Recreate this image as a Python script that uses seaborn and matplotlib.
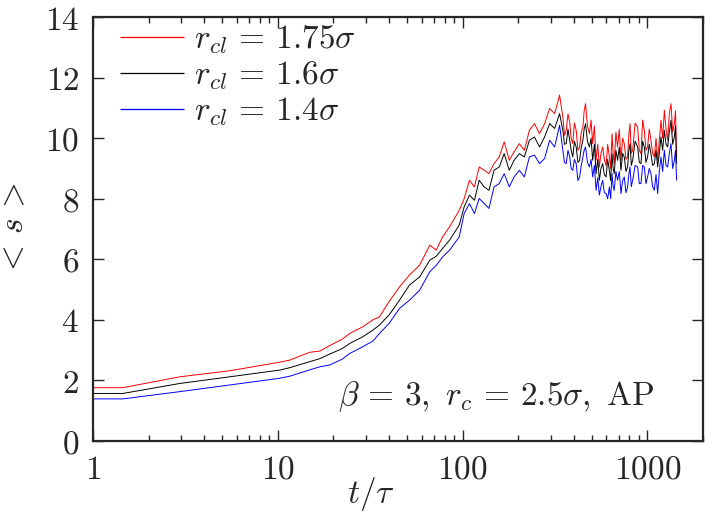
import matplotlib
matplotlib.use("Agg")
import matplotlib.pyplot as plt
import matplotlib.ticker as mticker
from matplotlib.lines import Line2D
import seaborn as sns
import pandas as pd

# time points (t / tau)
t_vals = [1, 1.45, 2.95, 5.5, 10.2, 11.6, 14.9, 16.9,
          19.1, 22.3, 24.5, 28.8, 32.7, 35.5, 40, 45.6, 51.6, 58.6, 66.5, 72, 78, 85, 96,
          102, 109, 116, 123, 131, 139, 148, 158, 168, 179, 190, 203, 216, 230, 245, 261, 278, 296, 315, 335,
          349, 356, 364, 372, 380, 387, 395, 403, 412, 421,
          430, 439, 448, 455, 463, 474, 486, 496, 506, 517,
          528, 539, 550, 561, 573, 585, 598, 610, 623, 633,
          644, 653, 662, 676, 690, 705, 720, 735, 750, 766,
          782, 794, 806, 819, 833, 859, 886, 905, 924, 943,
          963, 983, 1003, 1024, 1046, 1068, 1091, 1114, 1137, 1161,
          1185, 1210, 1236, 1262, 1288, 1315, 1343, 1371, 1400, 1420, 1440]

s_red = [1.76, 1.76, 2.12, 2.32, 2.6, 2.67, 2.93, 2.97,
         3.15, 3.36, 3.55, 3.77, 4.0, 4.1, 4.6, 5.09, 5.48, 5.81, 6.47, 6.3, 6.74, 7.07, 7.62,
         8.0, 8.61, 8.39, 9.05, 8.94, 8.83, 9.16, 9.38, 9.88, 9.27, 9.55, 9.82, 9.6, 10.26, 10.48, 10.15, 10.48, 10.98, 10.81, 11.42,
         10.7, 10.1, 10.26, 10.8, 10.54, 10.0, 9.82, 10.5, 10.26, 9.6,
         9.71, 10.2, 10.37, 10.9, 11.14, 10.4, 10.15, 10.6, 9.82, 10.4,
         9.27, 9.8, 9.05, 9.5, 9.71, 9.3, 9.1, 9.8, 9.38, 9.0,
         10.15, 9.5, 9.16, 10.2, 9.71, 10.3, 9.27, 10.0, 9.82, 9.3,
         9.38, 10.1, 10.48, 9.5, 9.6, 10.5, 10.37, 9.6, 9.49, 10.6,
         10.26, 9.6, 9.71, 10.3, 9.93, 9.5, 9.38, 10.0, 9.27, 9.9,
         10.59, 10.0, 10.92, 10.3, 9.93, 10.8, 11.14, 10.2, 10.48, 10.9, 9.38]

s_black = [1.57, 1.57, 1.9, 2.12, 2.34, 2.42, 2.62, 2.72,
           2.87, 3.05, 3.22, 3.44, 3.66, 3.83, 4.16, 4.65, 5.15, 5.42, 5.97, 6.1, 6.36, 6.63, 7.13,
           7.73, 8.12, 7.95, 8.61, 8.39, 8.28, 8.94, 9.05, 9.49, 8.94, 9.27, 9.49, 9.38, 9.93, 10.04, 9.71, 10.04, 10.48, 10.32, 10.81,
           10.26, 9.8, 9.82, 10.3, 9.93, 9.6, 9.38, 9.9, 9.71, 9.2,
           9.27, 9.7, 9.93, 10.3, 10.48, 9.9, 9.71, 10.0, 9.27, 9.8,
           8.83, 9.3, 8.61, 9.0, 9.16, 8.8, 8.72, 9.3, 8.94, 8.6,
           9.49, 9.0, 8.83, 9.6, 9.27, 9.7, 8.94, 9.5, 9.38, 8.9,
           9.05, 9.6, 9.82, 9.1, 9.27, 9.9, 9.71, 9.2, 9.16, 9.9,
           9.71, 9.2, 9.38, 9.8, 9.49, 9.1, 9.16, 9.6, 9.05, 9.5,
           10.04, 9.6, 10.26, 9.8, 9.71, 10.2, 10.59, 9.8, 10.04, 10.4, 9.16]

s_blue = [1.39, 1.39, 1.63, 1.85, 2.07, 2.14, 2.35, 2.45,
          2.51, 2.7, 2.89, 3.11, 3.3, 3.55, 3.88, 4.38, 4.65, 4.98, 5.59, 5.8, 6.08, 6.3, 6.74,
          7.51, 7.84, 7.51, 8.01, 7.84, 7.68, 8.39, 8.5, 8.83, 8.39, 8.72, 8.94, 8.72, 9.38, 9.44, 9.16, 9.33, 9.93, 9.71, 10.43,
          9.6, 9.2, 9.16, 9.6, 9.38, 9.0, 8.94, 9.3, 9.16, 8.6,
          8.72, 9.1, 9.38, 9.6, 9.71, 9.2, 9.05, 9.3, 8.72, 9.1,
          8.28, 8.7, 8.12, 8.4, 8.61, 8.2, 8.17, 8.0, 8.39, 8.0,
          8.83, 8.4, 8.28, 8.9, 8.61, 8.9, 8.17, 8.6, 8.72, 8.2,
          8.39, 8.8, 9.05, 8.4, 8.61, 9.1, 9.05, 8.5, 8.5, 9.1,
          9.05, 8.5, 8.72, 9.0, 8.83, 8.4, 8.28, 8.8, 8.17, 8.9,
          9.38, 8.9, 9.6, 9.1, 9.05, 9.5, 9.82, 9.0, 9.27, 9.6, 8.61]

labels = [r'$r_{cl}\,=\,1.75\sigma$', r'$r_{cl}\,=\,1.6\sigma$', r'$r_{cl}\,=\,1.4\sigma$']
colors = ['#ff0000', '#000000', '#0000ff']
x_ticks = [1, 10, 100, 1000]
x_tick_labels = ['1', '10', '100', '1000']
y_ticks = [0, 2, 4, 6, 8, 10, 12, 14]

sns.set_style('ticks')
plt.rcParams['mathtext.fontset'] = 'cm'
plt.rcParams['font.family'] = ['DejaVu Serif']

FS = 24

fig = plt.figure(figsize=(7.07, 5.17), dpi=100)
ax = fig.add_axes([0.1315, 0.147, 0.8628, 0.82])

series = [s_red, s_black, s_blue]
for col, ys in zip(colors, series):
    df = pd.DataFrame({'t': t_vals, 's': ys})
    sns.lineplot(data=df, x='t', y='s', ax=ax, color=col, lw=0.7,
                 estimator=None, sort=False, legend=False)

ax.set_xscale('log')
ax.set_xlim(1, 2000)
ax.set_ylim(0, 14)
ax.xaxis.set_major_locator(mticker.FixedLocator(x_ticks))
ax.xaxis.set_major_formatter(mticker.FixedFormatter([r'$\mathrm{%s}$' % s for s in x_tick_labels]))
ax.xaxis.set_minor_locator(mticker.LogLocator(base=10, subs=range(2, 10)))
ax.xaxis.set_minor_formatter(mticker.NullFormatter())
ax.yaxis.set_major_locator(mticker.FixedLocator(y_ticks))
ax.yaxis.set_major_formatter(mticker.FixedFormatter([r'$\mathrm{%d}$' % v for v in y_ticks]))

ax.tick_params(which='both', direction='in', top=True, right=True, labelsize=FS, width=1.0)
ax.tick_params(which='major', length=8)
ax.tick_params(axis='y', which='major', pad=10)
ax.tick_params(axis='x', which='major', pad=9)
ax.tick_params(which='minor', length=4)
for sp in ax.spines.values():
    sp.set_linewidth(1.6)

ax.set_xlabel(r'$t/\tau$', fontsize=FS)
ax.set_ylabel(r'$<\,s\,>$', fontsize=FS)
ax.xaxis.set_label_coords(0.455, -0.08)
ax.yaxis.set_label_coords(-0.102, 0.5)

handles = [Line2D([0, 1], [0, 0], color=c, lw=0.9, solid_capstyle='butt') for c in colors]
leg = ax.legend(handles, labels, loc='upper left', frameon=False, fontsize=FS, handlelength=1.9,
                handletextpad=0.3, labelspacing=0.1, borderaxespad=0.0, borderpad=0.0,
                bbox_to_anchor=(0.045, 0.985))

ax.text(0.402, 0.085, r'$\beta\,=\,3,\ r_c\,=\,2.5\sigma,\ \mathrm{AP}$', transform=ax.transAxes,
        fontsize=FS, ha='left', va='baseline')

fig.savefig('out.png', dpi=100)
